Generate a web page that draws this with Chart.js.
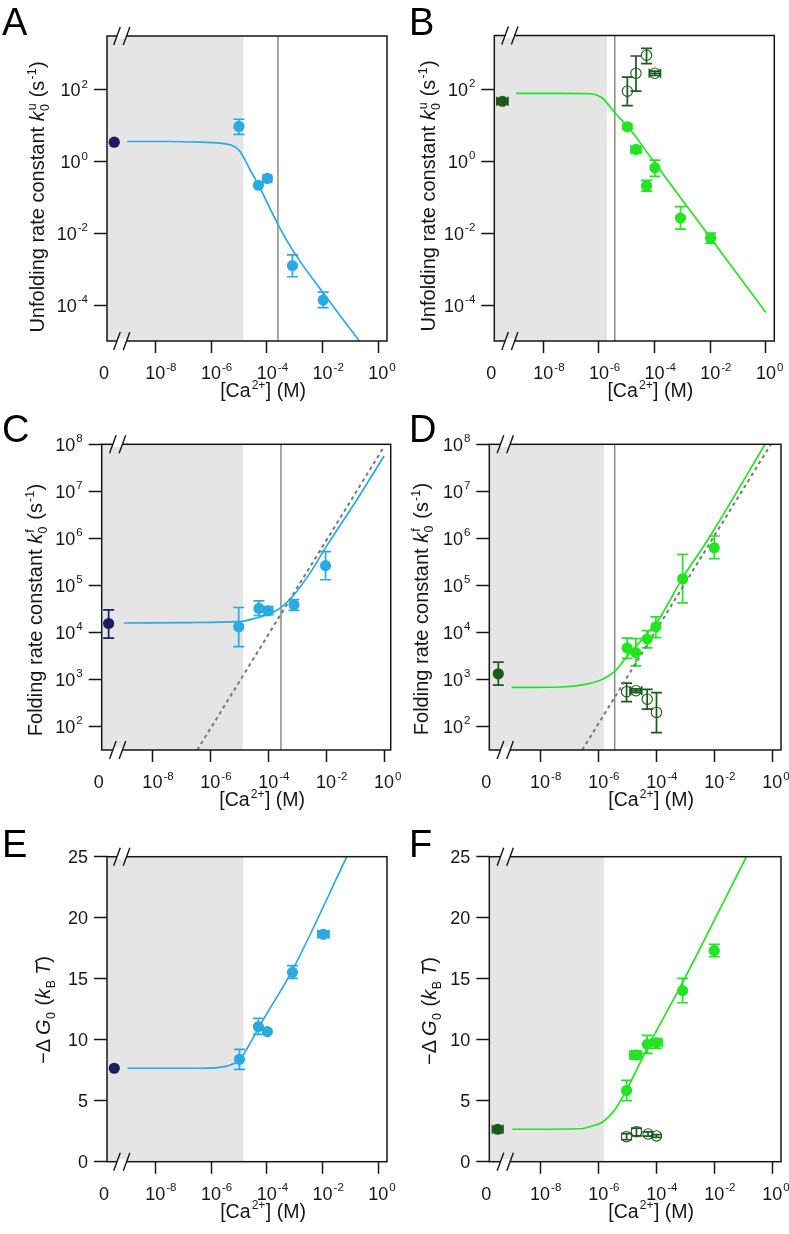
<!DOCTYPE html>
<html><head><meta charset="utf-8">
<script src="https://cdn.jsdelivr.net/npm/chart.js@4.4.1/dist/chart.umd.min.js"></script>
<style>
html,body{margin:0;padding:0;background:#fff;}
#wrap{position:relative;width:789px;height:1234px;overflow:hidden;background:#fff;}
canvas{position:absolute;}
</style></head><body><div id="wrap">
<canvas id="cA" width="405" height="405" style="left:0px;top:0px"></canvas>
<canvas id="cB" width="394" height="405" style="left:395px;top:0px"></canvas>
<canvas id="cC" width="405" height="410" style="left:0px;top:405px"></canvas>
<canvas id="cD" width="394" height="410" style="left:395px;top:405px"></canvas>
<canvas id="cE" width="405" height="419" style="left:0px;top:815px"></canvas>
<canvas id="cF" width="394" height="419" style="left:395px;top:815px"></canvas>
</div>
<script>
// ---------- tick labels ----------
const X_TICKS = [-8, -6, -4, -2, 0];          // log10 [Ca2+]
const X_ZERO_LABEL = '0';
const Y_TICKS_UNFOLD = [-4, -2, 0, 2];        // log10 k0u
const Y_TICKS_FOLD = [2, 3, 4, 5, 6, 7, 8];   // log10 k0f
const Y_TICKS_DG = [0, 5, 10, 15, 20, 25];    // -dG0 (kBT)

// ---------- Panel A (log10 values) ----------
const A_zero_x = [-9.47], A_zero_y = [0.54];
const A_pts_x = [-5.0, -4.30, -3.98, -3.08, -1.98];
const A_pts_y = [0.98, -0.66, -0.47, -2.90, -3.86];
const A_pts_lo = [0.76, null, null, -3.21, -4.07];
const A_pts_hi = [1.18, null, null, -2.60, -3.64];
const A_pts_xe = [0, 0, 0.15, 0, 0];
const A_fit_x = [-9.0, -7.5, -6.39, -5.32, -4.96, -4.60, -4.30, -4.0, -3.62, -3.04, -1.97, -0.68];
const A_fit_y = [0.56, 0.56, 0.54, 0.47, 0.28, -0.23, -0.65, -1.12, -1.72, -2.51, -3.67, -5.0];

// ---------- Panel B ----------
const B_zero_x = [-9.47], B_zero_y = [1.67], B_zero_lo = [1.60], B_zero_hi = [1.74], B_zero_xe = [0.2];
const B_open_x = [-4.98, -4.67, -4.29, -3.99];
const B_open_y = [1.95, 2.45, 2.95, 2.45];
const B_open_lo = [1.55, 1.95, 2.72, 2.39];
const B_open_hi = [2.34, 2.93, 3.14, 2.51];
const B_open_xe = [0, 0, 0, 0.2];
const B_fill_x = [-4.98, -4.67, -4.29, -3.99, -3.07, -1.99];
const B_fill_y = [0.96, 0.33, -0.68, -0.18, -1.58, -2.14];
const B_fill_lo = [0.90, 0.27, -0.83, -0.42, -1.89, -2.28];
const B_fill_hi = [1.02, 0.39, -0.53, 0.03, -1.26, -2.00];
const B_fill_xe = [0, 0.18, 0, 0, 0, 0];
const B_fit_x = [-8.98, -7.4, -6.32, -6.05, -5.85, -5.43, -4.98, -3.99, -2.37, 0.0];
const B_fit_y = [1.89, 1.89, 1.88, 1.83, 1.74, 1.35, 0.98, -0.05, -1.74, -4.21];

// ---------- Panel C ----------
const C_zero_x = [-9.51], C_zero_y = [4.19], C_zero_lo = [3.88], C_zero_hi = [4.48];
const C_pts_x = [-5.02, -4.32, -4.0, -3.11, -2.02];
const C_pts_y = [4.12, 4.51, 4.46, 4.59, 5.42];
const C_pts_lo = [3.70, 4.36, 4.38, 4.47, 5.12];
const C_pts_hi = [4.53, 4.67, 4.55, 4.70, 5.72];
const C_fit_x = [-8.99, -6.72, -4.99, -4.41, -3.95, -3.58, -3.15, -2.57, -1.99, -0.96, 0.0];
const C_fit_y = [4.20, 4.21, 4.23, 4.31, 4.40, 4.52, 4.77, 5.25, 5.83, 6.80, 7.75];
const C_dash_x = [-6.45, 0.02];
const C_dash_y = [1.50, 7.97];

// ---------- Panel D ----------
const D_zero_x = [-9.44], D_zero_y = [3.12], D_zero_lo = [2.88], D_zero_hi = [3.37];
const D_fill_x = [-5.0, -4.70, -4.31, -4.01, -3.09, -2.0];
const D_fill_y = [3.67, 3.57, 3.86, 4.12, 5.14, 5.80];
const D_fill_lo = [3.45, 3.29, 3.67, 3.89, 4.63, 5.57];
const D_fill_hi = [3.88, 3.87, 4.04, 4.33, 5.66, 6.05];
const D_open_x = [-5.02, -4.70, -4.31, -3.99];
const D_open_y = [2.74, 2.76, 2.58, 2.30];
const D_open_lo = [2.53, 2.72, 2.37, 1.87];
const D_open_hi = [2.92, 2.80, 2.79, 2.72];
const D_open_xe = [0, 0.2, 0, 0];
const D_fit_x = [-8.98, -7.32, -6.40, -5.83, -5.43, -5.02, -4.70, -4.33, -3.99, -3.09, -2.21, -0.23];
const D_fit_y = [2.83, 2.84, 2.90, 3.01, 3.17, 3.48, 3.70, 3.97, 4.20, 5.16, 5.98, 8.02];
const D_dash_x = [-6.55, -0.03];
const D_dash_y = [1.50, 8.02];

// ---------- Panel E (-dG0 in kBT) ----------
const E_zero_x = [-9.47], E_zero_y = [7.66];
const E_pts_x = [-4.98, -4.30, -3.98, -3.08, -1.97];
const E_pts_y = [8.39, 11.07, 10.66, 15.52, 18.64];
const E_pts_lo = [7.57, 10.44, null, 15.03, 18.40];
const E_pts_hi = [9.21, 11.75, null, 16.07, 18.90];
const E_pts_xe = [0, 0, 0, 0, 0.2];
const E_fit_x = [-8.99, -6.39, -5.44, -4.98, -4.60, -4.24, -3.08, -1.13];
const E_fit_y = [7.66, 7.66, 7.84, 8.34, 9.70, 11.2, 15.71, 25.0];

// ---------- Panel F ----------
const F_zero_x = [-9.46], F_zero_y = [2.66], F_zero_lo = [2.50], F_zero_hi = [2.84], F_zero_xe = [0.18];
const F_fill_x = [-5.02, -4.71, -4.31, -3.99, -3.09, -2.0];
const F_fill_y = [5.83, 8.75, 9.62, 9.75, 14.02, 17.30];
const F_fill_lo = [5.0, 8.40, 8.88, 9.30, 13.03, 16.80];
const F_fill_hi = [6.67, 9.08, 10.36, 10.10, 15.03, 17.82];
const F_fill_xe = [0, 0.2, 0, 0.2, 0, 0];
const F_open_x = [-5.02, -4.68, -4.28, -3.99];
const F_open_y = [2.05, 2.46, 2.27, 2.11];
const F_open_lo = [1.80, 2.12, 2.10, 2.00];
const F_open_hi = [2.30, 2.75, 2.45, 2.22];
const F_fit_x = [-8.96, -6.57, -6.29, -5.83, -5.43, -5.02, -4.33, -3.09, -2.04, -0.89];
const F_fit_y = [2.66, 2.70, 2.87, 3.28, 4.24, 5.88, 9.20, 14.70, 19.60, 25.0];

// ---------- styling ----------
const FONT = '"Liberation Sans", Arial, Helvetica, sans-serif';
const BLUE = '#2aaae2', NAVY = '#1d1c5e', GREEN = '#22e422', DKGREEN = '#1c5a1c';
const SHADE = '#e5e5e5', VLINE = '#8a8a8a', DASHC = '#777777', INK = '#161616';
function pts(xs, ys){ return xs.map((x, i) => ({x: x, y: ys[i]})); }
function expText(v){ return String(Math.round(v)); }

function partWidth(ctx, p, size){
  if (p.t != null) { ctx.font = (p.i ? 'italic ' : '') + size + 'px ' + FONT; return ctx.measureText(p.t).width; }
  ctx.font = (size * 0.62) + 'px ' + FONT;
  const a = p.sub ? ctx.measureText(p.sub).width : 0;
  const b = p.sup ? ctx.measureText(p.sup).width : 0;
  return Math.max(a, b) + size * 0.08;
}
function drawRich(ctx, parts, size, cx, cy, rotate){
  ctx.save();
  ctx.translate(cx, cy);
  if (rotate) ctx.rotate(-Math.PI / 2);
  let w = 0; parts.forEach(p => { w += partWidth(ctx, p, size); });
  let x = -w / 2; const base = size * 0.35;
  ctx.fillStyle = INK; ctx.textBaseline = 'alphabetic'; ctx.textAlign = 'left';
  parts.forEach(p => {
    const pw = partWidth(ctx, p, size);
    if (p.t != null) {
      ctx.font = (p.i ? 'italic ' : '') + size + 'px ' + FONT;
      ctx.fillText(p.t, x, base);
    } else {
      ctx.font = (size * 0.62) + 'px ' + FONT;
      if (p.sub) ctx.fillText(p.sub, x + size * 0.02, base + size * 0.24);
      if (p.sup) ctx.fillText(p.sup, x + size * 0.06, base - size * 0.42);
    }
    x += pw;
  });
  ctx.restore();
}

const deco = {
  id: 'deco',
  beforeDatasetsDraw(chart){
    const o = chart.options.plugins.deco, a = chart.chartArea, ctx = chart.ctx;
    const xs = chart.scales.x, ys = chart.scales.y;
    ctx.save();
    const sx = xs.getPixelForValue(o.shadeEnd);
    ctx.fillStyle = SHADE;
    ctx.fillRect(a.left, a.top, sx - a.left, a.bottom - a.top);
    if (o.vline != null) {
      const vx = xs.getPixelForValue(o.vline);
      ctx.strokeStyle = VLINE; ctx.lineWidth = 1.5;
      ctx.beginPath(); ctx.moveTo(vx, a.top); ctx.lineTo(vx, a.bottom); ctx.stroke();
    }
    chart.data.datasets.forEach(ds => {
      if (!ds.err) return;
      ctx.strokeStyle = ds.errColor; ctx.lineWidth = 1.7;
      ds.data.forEach((p, i) => {
        const px = xs.getPixelForValue(p.x), py = ys.getPixelForValue(p.y);
        const lo = ds.err.lo ? ds.err.lo[i] : null, hi = ds.err.hi ? ds.err.hi[i] : null;
        ctx.beginPath();
        if (lo != null && hi != null) {
          const y1 = ys.getPixelForValue(lo), y2 = ys.getPixelForValue(hi);
          ctx.moveTo(px, y1); ctx.lineTo(px, y2);
          ctx.moveTo(px - 5.5, y1); ctx.lineTo(px + 5.5, y1);
          ctx.moveTo(px - 5.5, y2); ctx.lineTo(px + 5.5, y2);
        }
        const xe = ds.err.xe ? ds.err.xe[i] : 0;
        if (xe) {
          const x1 = xs.getPixelForValue(p.x - xe), x2 = xs.getPixelForValue(p.x + xe);
          ctx.moveTo(x1, py); ctx.lineTo(x2, py);
          ctx.moveTo(x1, py - 4.5); ctx.lineTo(x1, py + 4.5);
          ctx.moveTo(x2, py - 4.5); ctx.lineTo(x2, py + 4.5);
        }
        ctx.stroke();
      });
    });
    ctx.restore();
  },
  afterDraw(chart){
    const o = chart.options.plugins.deco, a = chart.chartArea, ctx = chart.ctx;
    const xs = chart.scales.x, ys = chart.scales.y;
    ctx.save();
    ctx.strokeStyle = INK; ctx.lineWidth = 1.5;
    ctx.strokeRect(a.left, a.top, a.right - a.left, a.bottom - a.top);
    // axis break marks
    const bx = xs.getPixelForValue(o.breakAt);
    [a.top, a.bottom].forEach(y => {
      ctx.fillStyle = '#ffffff';
      ctx.fillRect(bx - 4.8, y - 2.5, 9.6, 5);
      ctx.beginPath();
      [bx - 4.8, bx + 4.8].forEach(c => { ctx.moveTo(c - 3.3, y + 9); ctx.lineTo(c + 3.3, y - 9); });
      ctx.strokeStyle = INK; ctx.lineWidth = 1.4; ctx.stroke();
    });
    // tick labels, placed with the scales' own tick positions
    ctx.fillStyle = INK; ctx.textBaseline = 'alphabetic';
    xs.ticks.forEach(t => {
      const px = xs.getPixelForValue(t.value), by = a.bottom + 38;
      ctx.font = '18px ' + FONT; ctx.textAlign = 'center';
      if (t.value < -9) { ctx.fillText(X_ZERO_LABEL, px - 3, by); return; }
      ctx.fillText('10', px, by);
      const w = ctx.measureText('10').width;
      ctx.font = '11.5px ' + FONT; ctx.textAlign = 'left';
      ctx.fillText(expText(t.value), px + w / 2 + 1, by - 8.5);
    });
    ys.ticks.forEach(t => {
      const py = ys.getPixelForValue(t.value), rx = a.left - 19, by = py + 6.5;
      ctx.textAlign = 'right';
      if (o.yLog) {
        ctx.font = '11.5px ' + FONT;
        const e = expText(t.value), ew = ctx.measureText(e).width;
        ctx.fillText(e, rx, by - 8.5);
        ctx.font = '18px ' + FONT;
        ctx.fillText('10', rx - ew - 1, by);
      } else {
        ctx.font = '18px ' + FONT;
        ctx.fillText(String(t.value), rx, by);
      }
    });
    // panel letter
    ctx.fillStyle = '#000'; ctx.font = '38px ' + FONT; ctx.textAlign = 'left'; ctx.textBaseline = 'alphabetic';
    ctx.fillText(o.letter, o.letterX, o.letterY);
    ctx.restore();
    // axis titles
    drawRich(ctx, [{t:'[Ca'}, {sup:'2+'}, {t:'] (M)'}], 19.5, (a.left + a.right) / 2 + 16, a.bottom + 49, false);
    drawRich(ctx, o.yTitle, 20, o.yTitleX, o.yTitleY, true);
  }
};

const T_UNFOLD = [{t:'Unfolding rate constant '}, {t:'k', i:true}, {sub:'0', sup:'u'}, {t:' (s'}, {sup:'-1'}, {t:')'}];
const T_FOLD = [{t:'Folding rate constant '}, {t:'k', i:true}, {sub:'0', sup:'f'}, {t:' (s'}, {sup:'-1'}, {t:')'}];
const T_DG = [{t:'−Δ\u2009'}, {t:'G', i:true}, {sub:'0'}, {t:' ('}, {t:'k', i:true}, {sub:'B'}, {t:'\u2009'}, {t:'T', i:true}, {t:')'}];

function filled(xs, ys, color, lo, hi, xe){
  return {data: pts(xs, ys), backgroundColor: color, borderColor: color, borderWidth: 0, pointRadius: 5.6,
    showLine: false, order: 1, err: {lo: lo, hi: hi, xe: xe}, errColor: color};
}
function open(xs, ys, color, lo, hi, xe){
  return {data: pts(xs, ys), backgroundColor: 'rgba(255,255,255,0)', borderColor: color, borderWidth: 1.1, pointRadius: 5.2,
    showLine: false, order: 1, err: {lo: lo, hi: hi, xe: xe}, errColor: color};
}
function curve(xs, ys, color){
  return {data: pts(xs, ys), borderColor: color, backgroundColor: color, borderWidth: 1.7, pointRadius: 0,
    showLine: true, cubicInterpolationMode: 'monotone', order: 3};
}
function dashed(xs, ys){
  return {data: pts(xs, ys), borderColor: DASHC, borderWidth: 2, borderDash: [3.5, 3.5], pointRadius: 0,
    showLine: true, order: 4};
}

function makePanel(p){
  const canvas = document.getElementById(p.id);
  const cl = p.cl, ct = p.ct, W = canvas.width, H = canvas.height;
  new Chart(canvas.getContext('2d'), {
    type: 'scatter',
    data: {datasets: p.datasets},
    plugins: [deco],
    options: {
      responsive: false, animation: false, devicePixelRatio: 1, events: [],
      layout: {padding: {top: p.area.t - ct, right: cl + W - p.area.r, left: 0, bottom: 0}},
      plugins: {legend: {display: false}, tooltip: {enabled: false},
        deco: {shadeEnd: p.shadeEnd, vline: p.vline, breakAt: -9.2, letter: p.letter, yLog: p.yLog,
               letterX: p.letterX - cl, letterY: p.letterY - ct, yTitle: p.yTitle,
               yTitleX: p.yTitleX - cl, yTitleY: p.yTitleY - ct}},
      scales: {
        x: {type: 'linear', min: p.xMin, max: p.xMax,
          afterBuildTicks: s => { s.ticks = [{value: p.xMin}].concat(X_TICKS.map(v => ({value: v}))); },
          afterFit: s => { s.height = ct + H - p.area.b; s.paddingLeft = 0; s.paddingRight = 0; },
          border: {display: false},
          grid: {drawOnChartArea: false, drawTicks: true, tickLength: 12, tickWidth: 1.5,
                 tickColor: c => (c.tick && c.tick.value < -9) ? 'rgba(0,0,0,0)' : INK},
          ticks: {display: false, autoSkip: false, maxRotation: 0}},
        y: {type: 'linear', min: p.yMin, max: p.yMax,
          afterBuildTicks: s => { s.ticks = p.yTicks.map(v => ({value: v})); },
          afterFit: s => { s.width = p.area.l - cl; s.paddingTop = 0; s.paddingBottom = 0; },
          border: {display: false},
          grid: {drawOnChartArea: false, drawTicks: true, tickLength: 13, tickWidth: 1.5, tickColor: INK},
          ticks: {display: false, autoSkip: false}}
      }
    }
  });
}

makePanel({id: 'cA', cl: 0, ct: 0, area: {l: 107, r: 387, t: 36, b: 341}, xMin: -9.73, xMax: 0.31,
  yMin: -5, yMax: 3.5, yTicks: Y_TICKS_UNFOLD, yLog: true, shadeEnd: -4.84, vline: -3.6,
  letter: 'A', letterX: 2, letterY: 35, yTitle: T_UNFOLD, yTitleX: 37, yTitleY: 197,
  datasets: [
    filled(A_zero_x, A_zero_y, NAVY, null, null, null),
    filled(A_pts_x, A_pts_y, BLUE, A_pts_lo, A_pts_hi, A_pts_xe),
    curve(A_fit_x, A_fit_y, BLUE)]});

makePanel({id: 'cB', cl: 395, ct: 0, area: {l: 494.3, r: 774.3, t: 35.5, b: 341}, xMin: -9.76, xMax: 0.30,
  yMin: -5, yMax: 3.5, yTicks: Y_TICKS_UNFOLD, yLog: true, shadeEnd: -5.71, vline: -5.43,
  letter: 'B', letterX: 409, letterY: 35, yTitle: T_UNFOLD, yTitleX: 428, yTitleY: 196,
  datasets: [
    filled(B_zero_x, B_zero_y, DKGREEN, B_zero_lo, B_zero_hi, B_zero_xe),
    open(B_open_x, B_open_y, DKGREEN, B_open_lo, B_open_hi, B_open_xe),
    filled(B_fill_x, B_fill_y, GREEN, B_fill_lo, B_fill_hi, B_fill_xe),
    curve(B_fit_x, B_fit_y, GREEN)]});

makePanel({id: 'cC', cl: 0, ct: 405, area: {l: 101.7, r: 390.7, t: 444.3, b: 750}, xMin: -9.75, xMax: 0.23,
  yMin: 1.5, yMax: 8, yTicks: Y_TICKS_FOLD, yLog: true, shadeEnd: -4.87, vline: -3.56,
  letter: 'C', letterX: 2, letterY: 442, yTitle: T_FOLD, yTitleX: 35, yTitleY: 610,
  datasets: [
    filled(C_zero_x, C_zero_y, NAVY, C_zero_lo, C_zero_hi, null),
    filled(C_pts_x, C_pts_y, BLUE, C_pts_lo, C_pts_hi, null),
    curve(C_fit_x, C_fit_y, BLUE),
    dashed(C_dash_x, C_dash_y)]});

makePanel({id: 'cD', cl: 395, ct: 405, area: {l: 489.3, r: 781, t: 444.3, b: 750}, xMin: -9.75, xMax: 0.30,
  yMin: 1.5, yMax: 8, yTicks: Y_TICKS_FOLD, yLog: true, shadeEnd: -5.8, vline: -5.43,
  letter: 'D', letterX: 409, letterY: 442, yTitle: T_FOLD, yTitleX: 421, yTitleY: 609,
  datasets: [
    filled(D_zero_x, D_zero_y, DKGREEN, D_zero_lo, D_zero_hi, null),
    open(D_open_x, D_open_y, DKGREEN, D_open_lo, D_open_hi, D_open_xe),
    filled(D_fill_x, D_fill_y, GREEN, D_fill_lo, D_fill_hi, null),
    curve(D_fit_x, D_fit_y, GREEN),
    dashed(D_dash_x, D_dash_y)]});

makePanel({id: 'cE', cl: 0, ct: 815, area: {l: 107, r: 387, t: 856.7, b: 1161.7}, xMin: -9.73, xMax: 0.31,
  yMin: 0, yMax: 25, yTicks: Y_TICKS_DG, yLog: false, shadeEnd: -4.84, vline: null,
  letter: 'E', letterX: 2, letterY: 857, yTitle: T_DG, yTitleX: 43, yTitleY: 1010,
  datasets: [
    filled(E_zero_x, E_zero_y, NAVY, null, null, null),
    filled(E_pts_x, E_pts_y, BLUE, E_pts_lo, E_pts_hi, E_pts_xe),
    curve(E_fit_x, E_fit_y, BLUE)]});

makePanel({id: 'cF', cl: 395, ct: 815, area: {l: 489.3, r: 781, t: 856.7, b: 1161.7}, xMin: -9.75, xMax: 0.30,
  yMin: 0, yMax: 25, yTicks: Y_TICKS_DG, yLog: false, shadeEnd: -5.8, vline: null,
  letter: 'F', letterX: 409, letterY: 857, yTitle: T_DG, yTitleX: 429, yTitleY: 1011,
  datasets: [
    filled(F_zero_x, F_zero_y, DKGREEN, F_zero_lo, F_zero_hi, F_zero_xe),
    open(F_open_x, F_open_y, DKGREEN, F_open_lo, F_open_hi, null),
    filled(F_fill_x, F_fill_y, GREEN, F_fill_lo, F_fill_hi, F_fill_xe),
    curve(F_fit_x, F_fit_y, GREEN)]});
</script>
</body></html>
